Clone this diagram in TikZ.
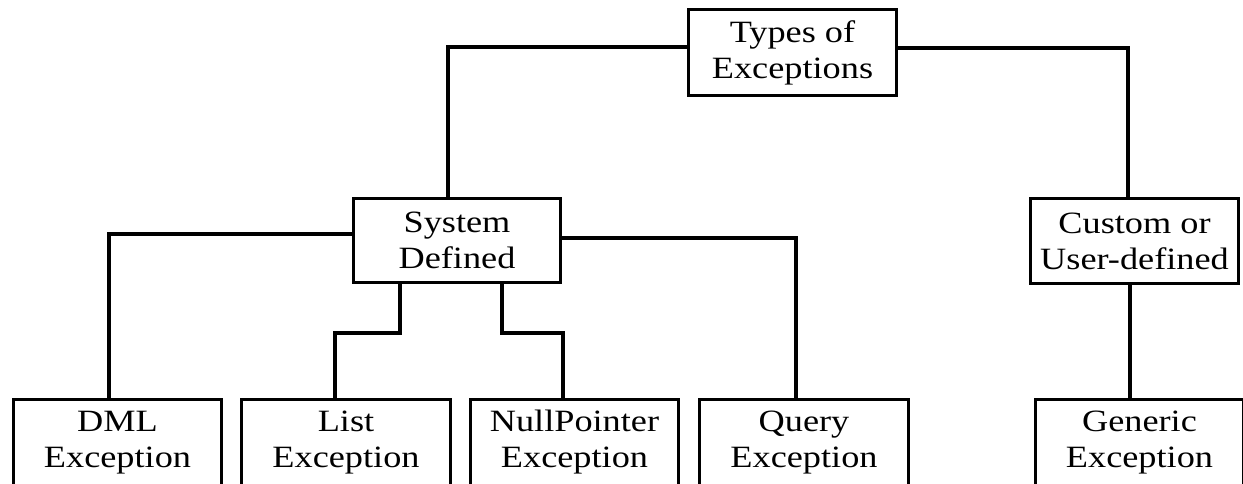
\documentclass[tikz,border=0pt]{standalone}
\usepackage{fontspec}
\setmainfont{Liberation Serif}[FakeStretch=1.17]
\begin{document}
\begin{tikzpicture}[x=1pt,y=-1pt,
  box/.style={draw=black, line width=3pt, fill=white, inner sep=0pt, align=center,
    font=\fontsize{31}{36}\selectfont},
  conn/.style={draw=black, line width=4pt}]
\useasboundingbox (0,0) rectangle (1243,483);
\fill[white] (0,0) rectangle (1243,483);
\clip (0,0) rectangle (1243,483);
% nodes
\node[box, minimum width=208pt, minimum height=86pt] (top) at (792.5,52.5) {Types of\\Exceptions};
\node[box, minimum width=207pt, minimum height=84pt] (sys) at (457,240) {System\\Defined};
\node[box, minimum width=208pt, minimum height=85pt] (cust) at (1134.5,241) {Custom or\\User-defined};
\node[box, minimum width=208pt, minimum height=86pt] (dml) at (117.5,442.5) {DML\\Exception};
\node[box, minimum width=209pt, minimum height=86pt] (list) at (346,442.5) {List\\Exception};
\node[box, minimum width=208pt, minimum height=86pt] (null) at (574.5,442.5) {NullPointer\\Exception};
\node[box, minimum width=209pt, minimum height=86pt] (query) at (804,442.5) {Query\\Exception};
\node[box, minimum width=208pt, minimum height=86pt] (gen) at (1139.5,442.5) {Generic\\Exception};
% connectors
\draw[conn] ([yshift=5.5pt]top.west) -| ([xshift=-9pt]sys.north);
\draw[conn] ([yshift=5pt]top.east) -| ([xshift=-6.5pt]cust.north);
\draw[conn] ([yshift=6pt]sys.west) -| ([xshift=-8.5pt]dml.north);
\draw[conn] ([yshift=2pt]sys.east) -| ([xshift=-8pt]query.north);
\draw[conn] ([xshift=-57pt]sys.south) |- (335,333) -- ([xshift=-11pt]list.north);
\draw[conn] ([xshift=45pt]sys.south) |- (563,333) -- ([xshift=-11.5pt]null.north);
\draw[conn] ([xshift=-4.5pt]cust.south) -- ([xshift=-9.5pt]gen.north);
\end{tikzpicture}
\end{document}
